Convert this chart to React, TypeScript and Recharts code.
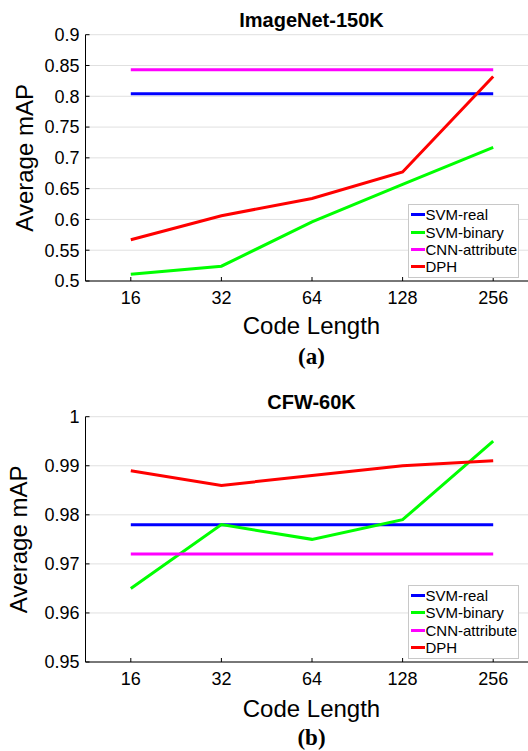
import React from "react";
import {
  LineChart,
  Line,
  XAxis,
  YAxis,
  CartesianGrid,
  Legend,
  Customized,
} from "recharts";

const codeLengths = ["16", "32", "64", "128", "256"];
const seriesNames = ["SVM-real", "SVM-binary", "CNN-attribute", "DPH"];
const seriesColors = ["#0000ff", "#00ff00", "#ff00ff", "#ff0000"];

// ImageNet-150K
const imagenetSvmReal = [0.804, 0.804, 0.804, 0.804, 0.804];
const imagenetSvmBinary = [0.511, 0.524, 0.596, 0.657, 0.717];
const imagenetCnnAttribute = [0.843, 0.843, 0.843, 0.843, 0.843];
const imagenetDph = [0.567, 0.606, 0.634, 0.677, 0.832];
const imagenetTicks = [0.5, 0.55, 0.6, 0.65, 0.7, 0.75, 0.8, 0.85, 0.9];

// CFW-60K
const cfwSvmReal = [0.978, 0.978, 0.978, 0.978, 0.978];
const cfwSvmBinary = [0.965, 0.978, 0.975, 0.979, 0.995];
const cfwCnnAttribute = [0.972, 0.972, 0.972, 0.972, 0.972];
const cfwDph = [0.989, 0.986, 0.988, 0.99, 0.991];
const cfwTicks = [0.95, 0.96, 0.97, 0.98, 0.99, 1];

const FONT = "'Liberation Sans', Arial, sans-serif";

const buildRows = (series: number[][]) =>
  codeLengths.map((code, i) => {
    const row: Record<string, string | number> = { code };
    series.forEach((s, k) => {
      row[seriesNames[k]] = s[i];
    });
    return row;
  });

const imagenetRows = buildRows([
  imagenetSvmReal,
  imagenetSvmBinary,
  imagenetCnnAttribute,
  imagenetDph,
]);
const cfwRows = buildRows([cfwSvmReal, cfwSvmBinary, cfwCnnAttribute, cfwDph]);

const LegendBox = ({ payload }: any) => {
  const items = [...(payload || [])].sort(
    (a: any, b: any) => seriesNames.indexOf(a.value) - seriesNames.indexOf(b.value)
  );
  return (
    <div
      style={{
        border: "1px solid #c8c8c8",
        background: "#fff",
        padding: "1px 0 2px 2px",
        fontFamily: FONT,
        fontSize: 15,
        lineHeight: "17.3px",
        color: "#000",
        boxSizing: "border-box",
        textAlign: "left",
      }}
    >
      {items.map((p: any) => (
        <div key={p.value} style={{ display: "flex", alignItems: "center" }}>
          <span
            style={{
              display: "inline-block",
              width: 14,
              height: 3,
              background: p.color,
              marginRight: 1,
            }}
          />
          <span>{p.value}</span>
        </div>
      ))}
    </div>
  );
};

interface PanelProps {
  rows: Record<string, string | number>[];
  ticks: number[];
  title: string;
  tag: string;
  height: number;
  plotTop: number;
  titleY: number;
  xLabelY: number;
  tagY: number;
  yLabelX: number;
  legendTop: number;
}

const Panel = ({
  rows,
  ticks,
  title,
  tag,
  height,
  plotTop,
  titleY,
  xLabelY,
  tagY,
  yLabelX,
  legendTop,
}: PanelProps) => {
  const width = 545;
  const xAxisH = 59;
  const plotBottomMargin = 30;
  const plotBottom = height - plotBottomMargin - xAxisH;
  const cx = 311.5;
  const cy = (plotTop + plotBottom) / 2;
  return (
    <LineChart
      width={width}
      height={height}
      data={rows}
      margin={{ top: plotTop, right: 6.5, left: 0, bottom: plotBottomMargin }}
    >
      <CartesianGrid vertical={false} stroke="#e0e0e0" strokeWidth={1} />
      <XAxis
        dataKey="code"
        height={xAxisH}
        padding={{ left: 45.3, right: 45.3 }}
        stroke="#000"
        tickSize={-4}
        tickMargin={14}
        tick={{ fill: "#000", fontSize: 18, fontFamily: FONT }}
        interval={0}
      />
      <YAxis
        width={85.5}
        domain={[ticks[0], ticks[ticks.length - 1]]}
        ticks={ticks}
        stroke="#000"
        tickSize={-4}
        tickMargin={10}
        tick={{ fill: "#000", fontSize: 18, fontFamily: FONT }}
        tickFormatter={(v: number) => String(+v.toFixed(2))}
        interval={0}
      />
      {seriesNames.map((name, k) => (
        <Line
          key={name}
          type="linear"
          dataKey={name}
          stroke={seriesColors[k]}
          strokeWidth={3}
          dot={false}
          activeDot={false}
          isAnimationActive={false}
        />
      ))}
      <Legend
        layout="horizontal"
        verticalAlign="middle"
        content={<LegendBox />}
        wrapperStyle={{ position: "absolute", left: 407.5, top: legendTop, width: 111, height: 72 }}
      />
      <Customized
        component={() => (
          <g>
            <text
              x={cx}
              y={titleY}
              textAnchor="middle"
              fontFamily={FONT}
              fontWeight="bold"
              fontSize={20}
              fill="#000"
            >
              {title}
            </text>
            <text
              x={cx}
              y={xLabelY}
              textAnchor="middle"
              fontFamily={FONT}
              fontSize={24}
              fill="#000"
            >
              Code Length
            </text>
            <text
              x={yLabelX}
              y={cy}
              transform={`rotate(-90, ${yLabelX}, ${cy})`}
              textAnchor="middle"
              fontFamily={FONT}
              fontSize={24}
              fill="#000"
            >
              Average mAP
            </text>
            <text
              x={cx}
              y={tagY}
              textAnchor="middle"
              fontFamily="'Liberation Serif', 'Times New Roman', serif"
              fontWeight="bold"
              fontSize={23}
              fill="#000"
            >
              {tag}
            </text>
          </g>
        )}
      />
    </LineChart>
  );
};

export default function App() {
  return (
    <div
      style={{
        position: "absolute",
        left: 0,
        top: 0,
        width: 528,
        height: 751,
        overflow: "hidden",
        background: "#fff",
      }}
    >
      <div style={{ position: "absolute", left: 0, top: 0 }}>
        <Panel
          rows={imagenetRows}
          ticks={imagenetTicks}
          title="ImageNet-150K"
          tag="(a)"
          height={370}
          plotTop={34.7}
          titleY={27.3}
          xLabelY={334.3}
          tagY={364}
          yLabelX={33.5}
          legendTop={204.3}
        />
      </div>
      <div style={{ position: "absolute", left: 0, top: 370 }}>
        <Panel
          rows={cfwRows}
          ticks={cfwTicks}
          title="CFW-60K"
          tag="(b)"
          height={381}
          plotTop={46.7}
          titleY={39}
          xLabelY={346.5}
          tagY={374.5}
          yLabelX={27}
          legendTop={215}
        />
      </div>
    </div>
  );
}
